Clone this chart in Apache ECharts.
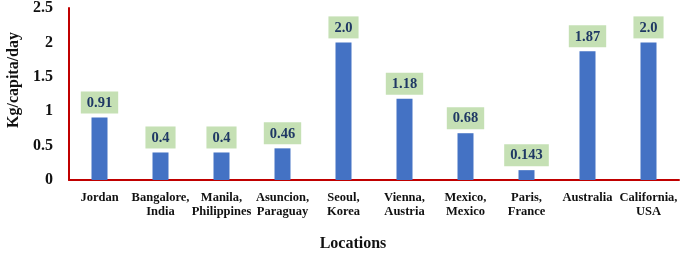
<!DOCTYPE html>
<html><head><meta charset="utf-8">
<script src="https://cdn.jsdelivr.net/npm/echarts@6/dist/echarts.min.js"></script>
<style>html,body{margin:0;padding:0;background:#fff}#c{width:685px;height:257px}</style>
</head><body><div id="c"></div>
<script>
var categories = ['Jordan','Bangalore,\nIndia','Manila,\nPhilippines','Asuncion,\nParaguay','Seoul,\nKorea','Vienna,\nAustria','Mexico,\nMexico','Paris,\nFrance','Australia','California,\nUSA'];
var values = [0.91, 0.4, 0.4, 0.46, 2.0, 1.18, 0.68, 0.143, 1.87, 2.0];
var valueLabels = ['0.91','0.4','0.4','0.46','2.0','1.18','0.68','0.143','1.87','2.0'];
var yTicks = [0, 0.5, 1, 1.5, 2, 2.5];

var serif = '"Liberation Serif","Times New Roman",serif';
var chart = echarts.init(document.getElementById('c'));
chart.setOption({
  animation: false,
  grid: {left: 69, right: 6, top: 8, bottom: 72, containLabel: false},
  xAxis: {
    type: 'category', data: categories,
    axisLine: {lineStyle: {color: '#C00000', width: 2}},
    axisTick: {show: false},
    axisLabel: {interval: 0, margin: 11, fontFamily: serif, fontWeight: 'bold', fontSize: 12.5, color: '#111', lineHeight: 14},
    name: 'Locations', nameLocation: 'middle', nameGap: 56,
    nameTextStyle: {fontFamily: serif, fontWeight: 'bold', fontSize: 16, color: '#111', padding: [0, 42, 0, 0]}
  },
  yAxis: {
    type: 'value', min: 0, max: 2.5, interval: 0.5,
    axisLine: {show: true, lineStyle: {color: '#C00000', width: 2}},
    axisTick: {show: false},
    splitLine: {show: false},
    axisLabel: {margin: 16, fontFamily: serif, fontWeight: 'bold', fontSize: 16, color: '#111',
      formatter: function(v){ var i = yTicks.indexOf(v); return i >= 0 ? String(yTicks[i]) : ''; }}
  },
  graphic: [{
    type: 'text', x: 14, y: 80, rotation: Math.PI/2, originX: 0, originY: 0,
    style: {text: 'Kg/capita/day', fontFamily: serif, fontWeight: 'bold', fontSize: 16, fill: '#111', align: 'center', verticalAlign: 'middle'}
  }],
  series: [{
    type: 'bar', data: values, barWidth: 16,
    itemStyle: {color: '#4472C4'},
    label: {show: true, position: 'top', distance: 4,
      formatter: function(p){ return valueLabels[p.dataIndex]; },
      fontFamily: serif, fontWeight: 'bold', fontSize: 14.5, color: '#1F3864',
      backgroundColor: '#C5E0B4', padding: [4, 6, 3, 6]}
  }]
});
</script></body></html>
